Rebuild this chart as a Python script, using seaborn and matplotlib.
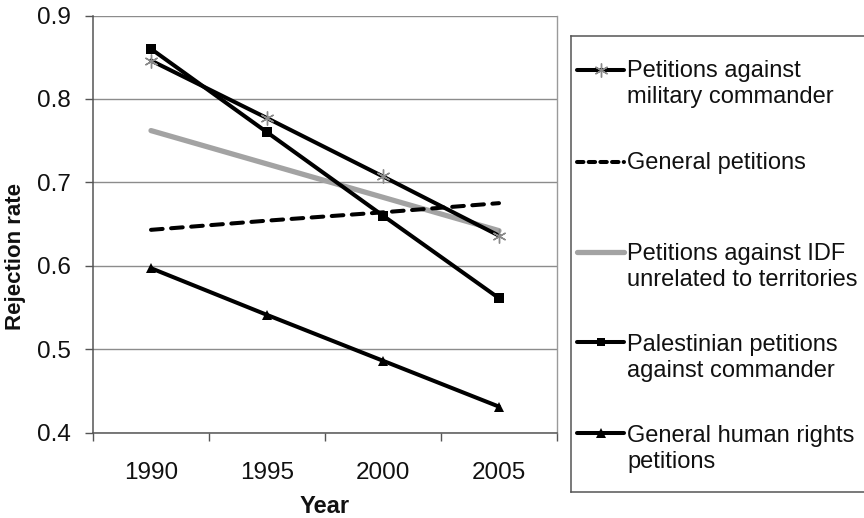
import matplotlib
matplotlib.use("Agg")
import matplotlib.pyplot as plt
import seaborn as sns
import numpy as np
import pandas as pd

# ---- data ----
years = ["1990", "1995", "2000", "2005"]
military_commander = [0.846, 0.777, 0.707, 0.636]
general_petitions = [0.643, 0.654, 0.664, 0.675]
idf_unrelated = [0.762, 0.722, 0.682, 0.642]
palestinian_commander = [0.860, 0.760, 0.660, 0.561]
human_rights = [0.597, 0.541, 0.486, 0.431]

legend_labels = [
    ("Petitions against", "military commander"),
    ("General petitions", None),
    ("Petitions against IDF", "unrelated to territories"),
    ("Palestinian petitions", "against commander"),
    ("General human rights", "petitions"),
]

sns.set_theme(style="white")
plt.rcParams["font.family"] = ["Liberation Sans", "DejaVu Sans"]

W, H = 864, 518
fig = plt.figure(figsize=(W / 100, H / 100), dpi=100)

# main axes in pixel geometry
ax_l, ax_r, ax_t, ax_b = 93, 557, 15.5, 432.5
ax = fig.add_axes([ax_l / W, 1 - ax_b / H, (ax_r - ax_l) / W, (ax_b - ax_t) / H])

x = np.arange(len(years))
frame = pd.DataFrame({
    "x": x,
    "military": military_commander,
    "general": general_petitions,
    "idf": idf_unrelated,
    "palestinian": palestinian_commander,
    "rights": human_rights,
})

lw = 2.9
ast = (6, 2, 0)
sns.lineplot(data=frame, x="x", y="idf", ax=ax, color="#a3a3a3", lw=3.8, zorder=3)
sns.lineplot(data=frame, x="x", y="general", ax=ax, color="black", lw=lw, zorder=3)
dash_line = ax.lines[-1]
dash_line.set_dashes([2.9, 2.1])
dash_line.set_dash_capstyle("round")
sns.lineplot(data=frame, x="x", y="military", ax=ax, color="black", lw=lw,
             marker=ast, markersize=10, markeredgecolor="#8a8a8a",
             markeredgewidth=1.0, zorder=4)
sns.lineplot(data=frame, x="x", y="palestinian", ax=ax, color="black", lw=lw,
             marker="s", markersize=7, markeredgewidth=0, zorder=4)
sns.lineplot(data=frame, x="x", y="rights", ax=ax, color="black", lw=lw,
             marker="^", markersize=7.5, markeredgewidth=0, zorder=4)

ax.set_xlim(-0.5, len(years) - 0.5)
ax.set_ylim(0.4, 0.9)
ax.set_yticks(np.arange(0.4, 0.91, 0.1))
ax.set_yticklabels([f"{v:.1f}" for v in np.arange(0.4, 0.91, 0.1)])
ax.yaxis.grid(True, color="#8c8c8c", lw=1.0)
ax.set_axisbelow(True)

# category boundaries carry the tick marks, labels sit at category centres
ax.set_xticks(np.arange(-0.5, len(years), 1.0))
ax.set_xticklabels([])
ax.set_xticks(x, minor=True)
ax.set_xticklabels(years, minor=True)
ax.tick_params(axis="x", which="major", direction="out", length=6, width=1,
               color="#555555", bottom=True)
ax.tick_params(axis="x", which="minor", length=0, pad=21, labelsize=17.5,
               labelcolor="#111111")
ax.tick_params(axis="y", direction="out", length=6, width=1, color="#555555",
               pad=10, labelsize=17.5, labelcolor="#111111", left=True)

for side in ("left", "bottom"):
    ax.spines[side].set_color("#555555")
    ax.spines[side].set_linewidth(1.1)
ax.spines["top"].set_visible(False)
ax.spines["right"].set_color("#9a9a9a")
ax.spines["right"].set_linewidth(1.0)

ax.set_ylabel("")
ax.set_xlabel("Year", fontsize=17, fontweight="bold", color="#111111", labelpad=8)
fig.text(16 / W, 1 - 256 / H, "Rejection rate", fontsize=16, fontweight="bold",
         color="#111111", rotation=90, ha="center", va="center")

# ---- legend box, drawn in pixel coordinates ----
lg_l, lg_r, lg_t, lg_b = 570.5, 880, 36, 492
lax = fig.add_axes([lg_l / W, 1 - lg_b / H, (lg_r - lg_l) / W, (lg_b - lg_t) / H])
lax.set_xlim(lg_l, lg_r)
lax.set_ylim(lg_b, lg_t)
lax.set_xticks([])
lax.set_yticks([])
lax.patch.set_alpha(0)
for s in lax.spines.values():
    s.set_color("#555555")
    s.set_linewidth(1.1)

hx0, hx1, hxm = 577, 624, 600.5
handle_y = [70, 162, 252, 342, 433]
text_base = [77, 168.5, 260, 350.5, 442]
line_gap = 26
tx = 627

styles = [
    dict(color="black", lw=lw, marker=ast, ms=10, mec="#8a8a8a", mew=1.0),
    dict(color="black", lw=lw, dashes=[1.6, 1.3], dash_capstyle="round"),
    dict(color="#a3a3a3", lw=3.8),
    dict(color="black", lw=lw, marker="s", ms=6, mew=0),
    dict(color="black", lw=lw, marker="^", ms=6.5, mew=0),
]
for i, st in enumerate(styles):
    st = dict(st)
    mk = st.pop("marker", None)
    ms = st.pop("ms", None)
    mec = st.pop("mec", None)
    mew = st.pop("mew", None)
    lax.plot([hx0, hx1], [handle_y[i]] * 2, clip_on=False, **st)
    if mk is not None:
        lax.plot([hxm], [handle_y[i]], marker=mk, ms=ms,
                 mec=mec if mec else "black", mfc="black", mew=mew,
                 color="black", clip_on=False)
    l1, l2 = legend_labels[i]
    lax.text(tx, text_base[i], l1, fontsize=17, color="#111111", va="baseline",
             ha="left")
    if l2:
        lax.text(tx, text_base[i] + line_gap, l2, fontsize=17, color="#111111",
                 va="baseline", ha="left")

fig.savefig("out.png", dpi=100)
